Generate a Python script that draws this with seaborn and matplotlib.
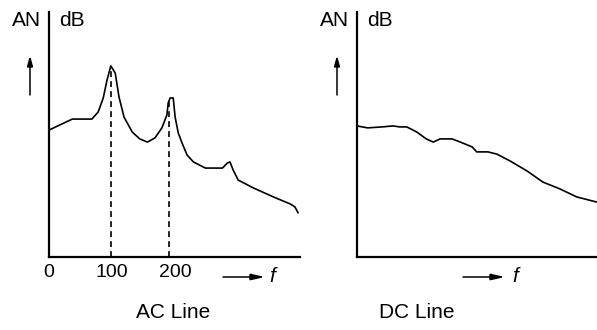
import numpy as np
import pandas as pd
import seaborn as sns
import matplotlib.pyplot as plt

# AC line spectrum (frequency units, level in % of axis height)
ac_freq = [0, 37, 68, 78, 86, 92, 98, 105, 111, 119, 132, 144, 156, 168, 179,
           187, 189, 192, 197, 200, 205, 211, 219, 229, 248, 275, 283, 287, 292,
           300, 324, 356, 383, 390, 395]
ac_level = [51.8, 56.3, 56.3, 59.2, 64.9, 72.2, 78.0, 75.1, 65.3, 57.1, 51.0,
            48.2, 46.9, 48.6, 52.7, 58.0, 62.9, 64.9, 64.9, 57.1, 50.6, 46.5,
            41.6, 38.8, 36.3, 36.3, 38.4, 38.8, 35.5, 31.4, 28.2, 24.5, 21.6,
            20.4, 18.0]

# DC line spectrum
dc_freq = [0, 17, 40, 57, 68, 79, 95, 110, 121, 132, 151, 168, 183, 190, 208,
           222, 243, 270, 295, 322, 349, 381]
dc_level = [53.5, 52.7, 53.1, 53.5, 53.1, 53.1, 51.0, 48.2, 46.9, 48.2, 48.2,
            46.5, 44.9, 42.9, 42.9, 42.0, 39.2, 35.1, 30.6, 27.8, 24.5, 22.4]

# harmonics marked with dashed lines
peak_freq = [98, 190]
peak_level = [78.0, 64.9]

tick_pos = [0, 100, 200]
tick_labels = ["0", "100", "200"]

sns.set_style("white")
plt.rcParams['font.family'] = ['Liberation Sans', 'DejaVu Sans']
plt.rcParams['text.color'] = 'black'
plt.rcParams['xtick.color'] = 'black'

W, H = 597, 330
fig = plt.figure(figsize=(W / 100, H / 100), dpi=100)

def fx(px):
    return px / W

def fy(py):
    return 1 - py / H

ax1 = fig.add_axes([fx(49), fy(257), fx(300) - fx(49), fy(12) - fy(257)])
ax2 = fig.add_axes([fx(357), fy(257), fx(597) - fx(357), fy(12) - fy(257)])

ac = pd.DataFrame({"f": ac_freq, "level": ac_level})
dc = pd.DataFrame({"f": dc_freq, "level": dc_level})

sns.lineplot(data=ac, x="f", y="level", ax=ax1, color="black", lw=1.2, sort=False)
sns.lineplot(data=dc, x="f", y="level", ax=ax2, color="black", lw=1.2, sort=False)

ax1.vlines(peak_freq, 0, peak_level, colors="black", linestyles=(0, (3.5, 2.5)), lw=1.2)

ax1.set_xlim(0, 398)
ax2.set_xlim(0, 381)
for ax in (ax1, ax2):
    ax.set_ylim(0, 100)
    ax.set_xlabel("")
    ax.set_ylabel("")
    ax.set_yticks([])
    for s in ("top", "right"):
        ax.spines[s].set_visible(False)
    for s in ("left", "bottom"):
        ax.spines[s].set_linewidth(1.6)
        ax.spines[s].set_color("black")

ax1.set_xticks(tick_pos)
ax1.set_xticklabels(tick_labels, fontsize=14)
ax1.tick_params(axis="x", length=0, pad=5, labelcolor="black")
ax2.set_xticks([])

# axis annotations
for x0 in (0, 308):
    fig.text(fx(27 + x0), fy(21), "AN", fontsize=15, ha="center", va="center")
    fig.text(fx(72 + x0), fy(21), "dB", fontsize=15, ha="center", va="center")
for xa in (30, 337):
    fig.add_artist(plt.Line2D([fx(xa)] * 2, [fy(95), fy(64)], color="black", lw=1.1))
    fig.patches.append(plt.Polygon([[fx(xa), fy(58)], [fx(xa - 2.5), fy(67)],
                                    [fx(xa + 2.5), fy(67)]], closed=True,
                                   color="black", transform=fig.transFigure))
for xa, xf in ((223, 272), (463, 515)):
    fig.add_artist(plt.Line2D([fx(xa), fx(xa + 30)], [fy(277)] * 2, color="black", lw=1.1))
    fig.patches.append(plt.Polygon([[fx(xa + 39), fy(277)], [fx(xa + 27), fy(274.3)],
                                    [fx(xa + 27), fy(279.7)]], closed=True,
                                   color="black", transform=fig.transFigure))
    fig.text(fx(xf), fy(276), "f", fontsize=15, style="italic", ha="center", va="center")

fig.text(fx(173), fy(313), "AC Line", fontsize=15, ha="center", va="center")
fig.text(fx(417), fy(313), "DC Line", fontsize=15, ha="center", va="center")

fig.savefig("out.png", dpi=100)
